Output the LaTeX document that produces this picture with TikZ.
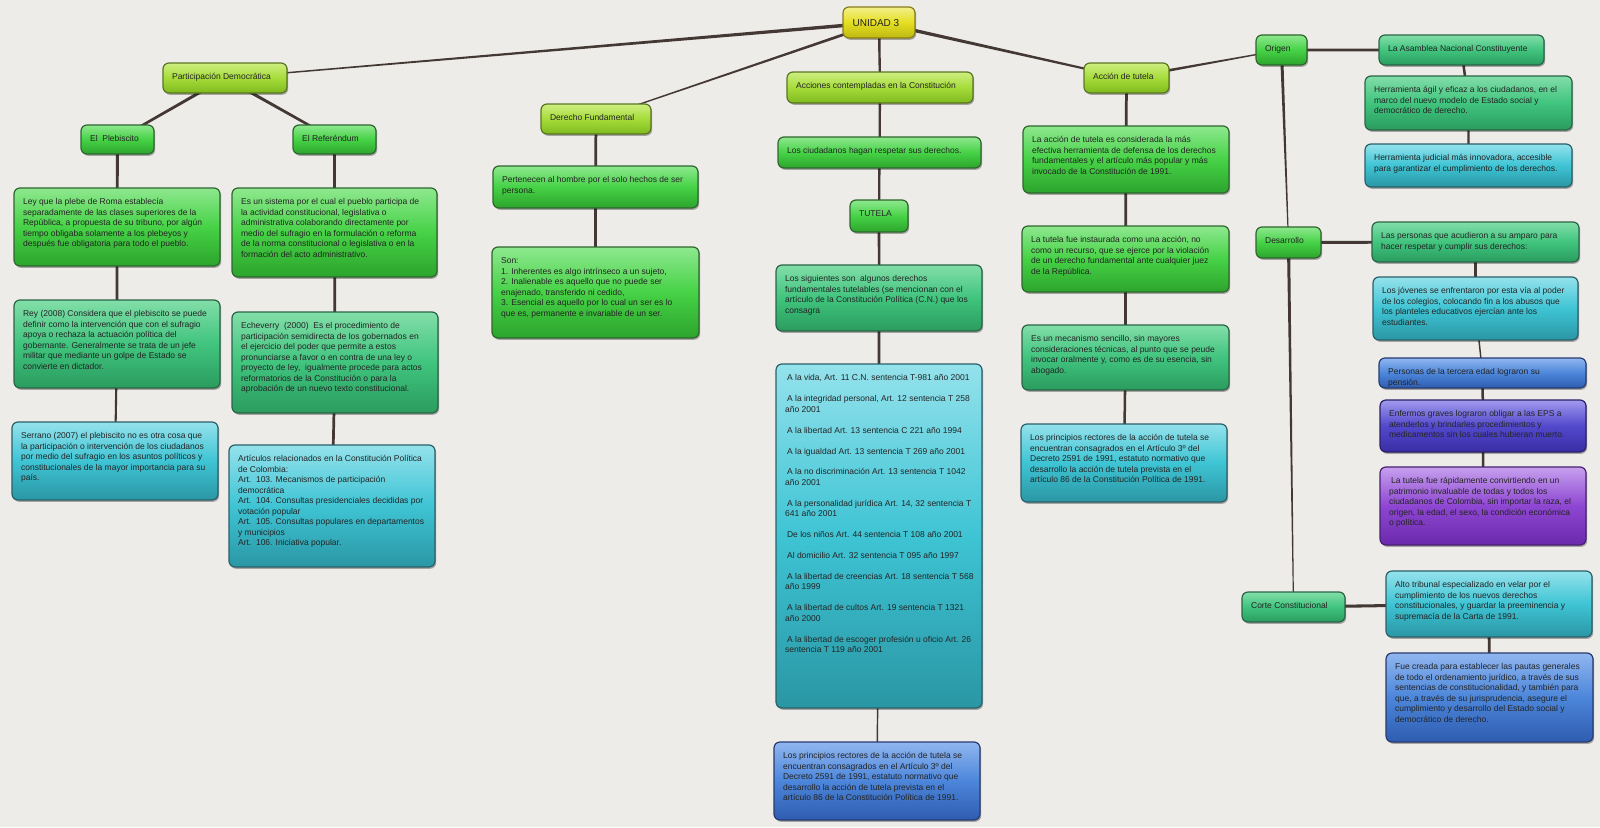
\documentclass[tikz,border=0pt]{standalone}
\usepackage{fontspec}
\setmainfont{Liberation Sans}
\usetikzlibrary{fit,calc,shadows}
\pgfdeclarelayer{bg}\pgfdeclarelayer{lines}
\pgfsetlayers{bg,lines,main}
\definecolor{bgC}{HTML}{EDECE9}
\definecolor{lnC}{HTML}{433833}
\definecolor{txtC}{HTML}{242424}
\definecolor{yelT}{HTML}{F4F08A}\definecolor{yelM}{HTML}{E4DE22}\definecolor{yelD}{HTML}{BEB812}\definecolor{yelB}{HTML}{857E1A}
\definecolor{limT}{HTML}{CDEE80}\definecolor{limM}{HTML}{A6DC3A}\definecolor{limD}{HTML}{7EBA1E}\definecolor{limB}{HTML}{5A7522}
\definecolor{grnT}{HTML}{8EE88E}\definecolor{grnM}{HTML}{46D246}\definecolor{grnD}{HTML}{2CA42C}\definecolor{grnB}{HTML}{2E662E}
\definecolor{emeT}{HTML}{82DEA8}\definecolor{emeM}{HTML}{40C47E}\definecolor{emeD}{HTML}{2A9C5E}\definecolor{emeB}{HTML}{2A6446}
\definecolor{cyaT}{HTML}{94E2EC}\definecolor{cyaM}{HTML}{3EC4D4}\definecolor{cyaD}{HTML}{2A96A4}\definecolor{cyaB}{HTML}{2A6068}
\definecolor{bluT}{HTML}{90B6F0}\definecolor{bluM}{HTML}{4C86DA}\definecolor{bluD}{HTML}{2E5CB0}\definecolor{bluB}{HTML}{283A70}
\definecolor{indT}{HTML}{A09AEE}\definecolor{indM}{HTML}{5248CC}\definecolor{indD}{HTML}{3A2EA4}\definecolor{indB}{HTML}{2A2068}
\definecolor{purT}{HTML}{C6A0EE}\definecolor{purM}{HTML}{8E46D2}\definecolor{purD}{HTML}{6A2AAC}\definecolor{purB}{HTML}{482070}
\tikzset{
  x=1pt, y=-1pt,
  bxbase/.style={rectangle, rounded corners=6pt, inner sep=0pt, line width=1.2pt,
    drop shadow={shadow xshift=1.2pt, shadow yshift=-1.8pt, opacity=0.3, fill=black}},
  cyel/.style={bxbase, draw=yelB, top color=yelT, bottom color=yelD, middle color=yelM},
  clime/.style={bxbase, draw=limB, top color=limT, bottom color=limD, middle color=limM},
  cgreen/.style={bxbase, draw=grnB, top color=grnT, bottom color=grnD, middle color=grnM},
  cemer/.style={bxbase, draw=emeB, top color=emeT, bottom color=emeD, middle color=emeM},
  ccyan/.style={bxbase, draw=cyaB, top color=cyaT, bottom color=cyaD, middle color=cyaM},
  cblue/.style={bxbase, draw=bluB, top color=bluT, bottom color=bluD, middle color=bluM},
  cindigo/.style={bxbase, draw=indB, top color=indT, bottom color=indD, middle color=indM},
  cpurple/.style={bxbase, draw=purB, top color=purT, bottom color=purD, middle color=purM},
  txt/.style={inner sep=0pt, align=left, text=txtC, font=\fontsize{8.5}{10.45}\selectfont, anchor=north west},
  conn/.style={fill=lnC},
}
\newcommand\bx[7]{%
  \node[#2, fit={(#3,#4) (#5,#6)}] (#1) {};
  \node[txt] (#1-t) at ([xshift=9.5pt,yshift=-10pt]#1.north west) {\strut #7};}
\newcommand\lk[4]{%
  \fill[conn] ($(#1)!#3pt!90:(#2)$) -- ($(#1)!#3pt!-90:(#2)$) -- ($(#2)!#4pt!90:(#1)$) -- ($(#2)!#4pt!-90:(#1)$) -- cycle;}
\newcommand\ig{\hspace{2pt}}
\begin{document}
\begin{tikzpicture}
\useasboundingbox (0,0) rectangle (1600,827);
\begin{pgfonlayer}{bg}
  \fill[bgC] (0,0) rectangle (1600,827);
\end{pgfonlayer}

\node[cyel, fit={(843,7) (915,38)}] (u) {};
\node[txt, font=\fontsize{10}{12}\selectfont, anchor=base west] (u-t) at ([xshift=10pt,yshift=-20pt]u.north west) {UNIDAD 3};

\bx{pd}{clime}{163}{63}{287}{93}{Participación Democrática}
\bx{pl}{cgreen}{81}{125}{154}{154}{El~~Plebiscito}
\bx{rf}{cgreen}{293}{125}{376}{154}{El Referéndum}
\bx{ley}{cgreen}{14}{188}{220}{266}{Ley que la plebe de Roma establecía\\separadamente de las clases superiores de la\\República, a propuesta de su tribuno, por algún\\tiempo obligaba solamente a los plebeyos y\\después fue obligatoria para todo el pueblo.}
\bx{es}{cgreen}{232}{188}{437}{277}{Es un sistema por el cual el pueblo participa de\\la actividad constitucional, legislativa o\\administrativa colaborando directamente por\\medio del sufragio en la formulación o reforma\\de la norma constitucional o legislativa o en la\\formación del acto administrativo.}
\bx{rey}{cemer}{14}{300}{220}{388}{Rey (2008) Considera que el plebiscito se puede\\definir como la intervención que con el sufragio\\apoya o rechaza la actuación política del\\gobernante. Generalmente se trata de un jefe\\militar que mediante un golpe de Estado se\\convierte en dictador.}
\bx{ser}{ccyan}{12}{422}{218}{500}{Serrano (2007) el plebiscito no es otra cosa que\\la participación o intervención de los ciudadanos\\por medio del sufragio en los asuntos políticos y\\constitucionales de la mayor importancia para su\\país.}
\bx{ech}{cemer}{232}{312}{438}{413}{Echeverry~~(2000)~~Es el procedimiento de\\participación semidirecta de los gobernados en\\el ejercicio del poder que permite a estos\\pronunciarse a favor o en contra de una ley o\\proyecto de ley,~~igualmente procede para actos\\reformatorios de la Constitución o para la\\aprobación de un nuevo texto constitucional.}
\bx{art}{ccyan}{229}{445}{435}{567}{Artículos relacionados en la Constitución Política\\de Colombia:\\Art.~~103. Mecanismos de participación\\democrática\\Art.~~104. Consultas presidenciales decididas por\\votación popular\\Art.~~105. Consultas populares en departamentos\\y municipios\\Art.~~106. Iniciativa popular.}
\bx{df}{clime}{541}{104}{651}{134}{Derecho Fundamental}
\bx{per}{cgreen}{493}{166}{698}{208}{Pertenecen al hombre por el solo hechos de ser\\persona.}
\bx{son}{cgreen}{492}{247}{699}{338}{Son:\\1. Inherentes es algo intrínseco a un sujeto,\\2. Inalienable es aquello que no puede ser\\enajenado, transferido ni cedido,\\3. Esencial es aquello por lo cual un ser es lo\\que es, permanente e invariable de un ser.}
\bx{acc}{clime}{787}{72}{973}{103}{Acciones contempladas en la Constitución}
\bx{ciu}{cgreen}{778}{137}{981}{168}{Los ciudadanos hagan respetar sus derechos.}
\bx{tut}{cgreen}{850}{200}{908}{232}{TUTELA}
\bx{sig}{cemer}{776}{265}{982}{331}{Los siguientes son~~algunos derechos\\fundamentales tutelables (se mencionan con el\\artículo de la Constitución Política (C.N.) que los\\consagra}
\bx{lst}{ccyan}{776}{364}{982}{708}{\ig A la vida, Art. 11 C.N. sentencia T-981 año 2001\\[10.45pt]\ig A la integridad personal, Art. 12 sentencia T 258\\año 2001\\[10.45pt]\ig A la libertad Art. 13 sentencia C 221 año 1994\\[10.45pt]\ig A la igualdad Art. 13 sentencia T 269 año 2001\\[10.45pt]\ig A la no discriminación Art. 13 sentencia T 1042\\año 2001\\[10.45pt]\ig A la personalidad jurídica Art. 14, 32 sentencia T\\641 año 2001\\[10.45pt]\ig De los niños Art. 44 sentencia T 108 año 2001\\[10.45pt]\ig Al domicilio Art. 32 sentencia T 095 año 1997\\[10.45pt]\ig A la libertad de creencias Art. 18 sentencia T 568\\año 1999\\[10.45pt]\ig A la libertad de cultos Art. 19 sentencia T 1321\\año 2000\\[10.45pt]\ig A la libertad de escoger profesión u oficio Art. 26\\sentencia T 119 año 2001}
\bx{bot}{cblue}{774}{742}{980}{820}{Los principios rectores de la acción de tutela se\\encuentran consagrados en el Artículo 3º del\\Decreto 2591 de 1991, estatuto normativo que\\desarrollo la acción de tutela prevista en el\\artículo 86 de la Constitución Política de 1991.}
\bx{at}{clime}{1084}{63}{1169}{93}{Acción de tutela}
\bx{lac}{cgreen}{1023}{126}{1229}{193}{La acción de tutela es considerada la más\\efectiva herramienta de defensa de los derechos\\fundamentales y el artículo más popular y más\\invocado de la Constitución de 1991.}
\bx{ltf}{cgreen}{1022}{226}{1229}{292}{La tutela fue instaurada como una acción, no\\como un recurso, que se ejerce por la violación\\de un derecho fundamental ante cualquier juez\\de la República.}
\bx{mec}{cemer}{1022}{325}{1229}{390}{Es un mecanismo sencillo, sin mayores\\consideraciones técnicas, al punto que se peude\\invocar oralmente y, como es de su esencia, sin\\abogado.}
\bx{pri}{ccyan}{1021}{424}{1227}{502}{Los principios rectores de la acción de tutela se\\encuentran consagrados en el Artículo 3º del\\Decreto 2591 de 1991, estatuto normativo que\\desarrollo la acción de tutela prevista en el\\artículo 86 de la Constitución Política de 1991.}
\bx{ori}{cgreen}{1256}{35}{1307}{65}{Origen}
\bx{asa}{cemer}{1379}{35}{1544}{65}{La Asamblea Nacional Constituyente}
\bx{hag}{cemer}{1365}{76}{1572}{130}{Herramienta ágil y eficaz a los ciudadanos, en el\\marco del nuevo modelo de Estado social y\\democrático de derecho.}
\bx{hju}{ccyan}{1365}{144}{1572}{187}{Herramienta judicial más innovadora, accesible\\para garantizar el cumplimiento de los derechos.}
\bx{des}{cgreen}{1256}{227}{1321}{258}{Desarrollo}
\bx{pers}{cemer}{1372}{222}{1579}{262}{Las personas que acudieron a su amparo para\\hacer respetar y cumplir sus derechos:}
\bx{jov}{ccyan}{1373}{277}{1578}{340}{Los jóvenes se enfrentaron por esta vía al poder\\de los colegios, colocando fin a los abusos que\\los planteles educativos ejercían ante los\\estudiantes.}
\bx{ter}{cblue}{1379}{358}{1586}{388}{Personas de la tercera edad lograron su\\pensión.}
\bx{enf}{cindigo}{1380}{400}{1586}{452}{Enfermos graves lograron obligar a las EPS a\\atenderlos y brindarles procedimientos y\\medicamentos sin los cuales hubieran muerto.}
\bx{rap}{cpurple}{1380}{467}{1586}{545}{\ig La tutela fue rápidamente convirtiendo en un\\patrimonio invaluable de todas y todos los\\ciudadanos de Colombia, sin importar la raza, el\\origen, la edad, el sexo, la condición económica\\o política.}
\bx{cor}{cemer}{1242}{592}{1345}{622}{Corte Constitucional}
\bx{alt}{ccyan}{1386}{571}{1592}{637}{Alto tribunal especializado en velar por el\\cumplimiento de los nuevos derechos\\constitucionales, y guardar la preeminencia y\\supremacía de la Carta de 1991.}
\bx{fue}{cblue}{1386}{653}{1593}{742}{Fue creada para establecer las pautas generales\\de todo el ordenamiento jurídico, a través de sus\\sentencias de constitucionalidad, y también para\\que, a través de su jurisprudencia, asegure el\\cumplimiento y desarrollo del Estado social y\\democrático de derecho.}

\begin{pgfonlayer}{lines}
\lk{u}{pd}{1.8}{0.6}
\lk{u}{df}{1.5}{0.5}
\lk{u}{acc}{1.3}{1.1}
\lk{u}{at}{1.8}{0.9}
\lk{pd}{pl}{1.6}{1.2}
\lk{pd}{rf}{1.6}{1.2}
\lk{pl}{ley}{1.5}{1.4}
\lk{ley}{rey}{1.4}{1.3}
\lk{rey}{ser}{1.1}{1.0}
\lk{rf}{es}{1.5}{1.4}
\lk{es}{ech}{1.4}{1.3}
\lk{ech}{art}{1.4}{1.3}
\lk{df}{per}{1.4}{1.3}
\lk{per}{son}{1.4}{1.3}
\lk{acc}{ciu}{1.2}{1.1}
\lk{ciu}{tut}{1.2}{1.1}
\lk{tut}{sig}{1.3}{1.2}
\lk{sig}{lst}{1.5}{1.4}
\lk{lst}{bot}{0.8}{0.7}
\lk{at}{lac}{1.4}{1.3}
\lk{lac}{ltf}{1.4}{1.3}
\lk{ltf}{mec}{1.4}{1.3}
\lk{mec}{pri}{1.3}{1.2}
\lk{at}{ori}{1.6}{0.5}
\lk{ori}{asa}{1.5}{1.4}
\lk{asa}{hag}{1.3}{1.2}
\lk{hag}{hju}{1.2}{1.1}
\lk{ori}{des}{1.6}{0.5}
\lk{des}{pers}{1.5}{1.4}
\lk{pers}{jov}{1.4}{1.3}
\lk{jov}{ter}{0.8}{0.7}
\lk{ter}{enf}{1.3}{1.2}
\lk{enf}{rap}{1.3}{1.2}
\lk{des}{cor}{1.6}{0.5}
\lk{cor}{alt}{1.6}{1.4}
\lk{alt}{fue}{1.5}{1.4}
\end{pgfonlayer}
\end{tikzpicture}
\end{document}
